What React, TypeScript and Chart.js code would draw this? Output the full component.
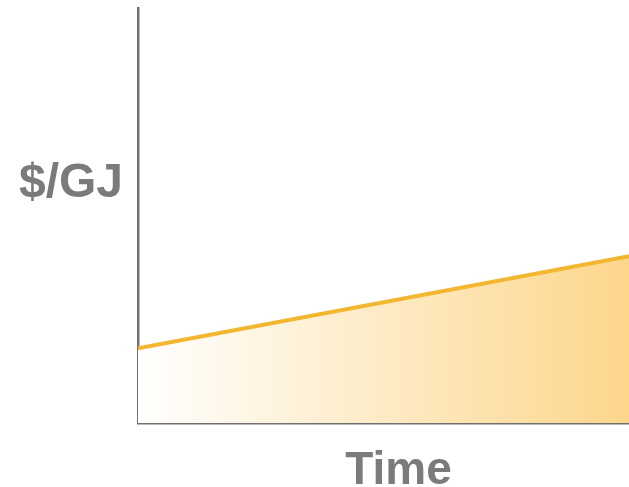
import React, { useEffect, useRef } from "react";
import { Chart, registerables } from "chart.js";

Chart.register(...registerables);

const timePoints = [0, 10];
const prices = [18, 40.2];
const yRange = [0, 100];
const yTitle = "$/GJ";
const xTitle = "Time";

const labelPlugin = {
  id: "axisLabels",
  afterDraw(chart: any) {
    const { ctx, chartArea } = chart;
    ctx.save();
    ctx.fillStyle = "#7b7b7b";
    ctx.textBaseline = "alphabetic";
    ctx.textAlign = "center";
    ctx.font = "bold 48px 'Liberation Sans', Arial, sans-serif";
    ctx.fillText(yTitle, 71, 197);
    ctx.font = "bold 46px 'Liberation Sans', Arial, sans-serif";
    ctx.fillText(xTitle, (chartArea.left + chartArea.right) / 2 + 15, 484);
    ctx.restore();
  },
};

export default function App() {
  const ref = useRef<HTMLCanvasElement>(null);
  useEffect(() => {
    document.body.style.margin = "0";
    const canvas = ref.current!;
    const chart = new Chart(canvas, {
      type: "line",
      data: {
        datasets: [
          {
            data: timePoints.map((t, i) => ({ x: t, y: prices[i] })),
            borderColor: "#f2b630",
            borderWidth: 4,
            pointRadius: 0,
            fill: "origin",
            backgroundColor: (c: any) => {
              const area = c.chart.chartArea;
              if (!area) return "rgba(253,214,138,0.5)";
              const g = c.chart.ctx.createLinearGradient(area.left, 0, area.right, 0);
              g.addColorStop(0, "rgba(255,255,255,1)");
              g.addColorStop(1, "#fdd68b");
              return g;
            },
            tension: 0,
          },
        ],
      },
      options: {
        animation: false,
        responsive: false,
        maintainAspectRatio: false,
        layout: { padding: { left: 130, right: 0, top: 8, bottom: 56 } },
        plugins: { legend: { display: false }, tooltip: { enabled: false } },
        scales: {
          x: {
            type: "linear",
            min: timePoints[0],
            max: timePoints[timePoints.length - 1],
            grid: { display: false },
            ticks: { display: false },
            border: { display: true, color: "#707070", width: 2.5 },
          },
          y: {
            min: yRange[0],
            max: yRange[1],
            grid: { display: false },
            ticks: { display: false },
            border: { display: true, color: "#707070", width: 2.5 },
          },
        },
      },
      plugins: [labelPlugin],
    });
    return () => chart.destroy();
  }, []);
  return (
    <div style={{ position: "absolute", left: 0, top: 0, width: 629, height: 487, background: "#fff" }}>
      <canvas ref={ref} width={629} height={487} style={{ display: "block" }} />
    </div>
  );
}
